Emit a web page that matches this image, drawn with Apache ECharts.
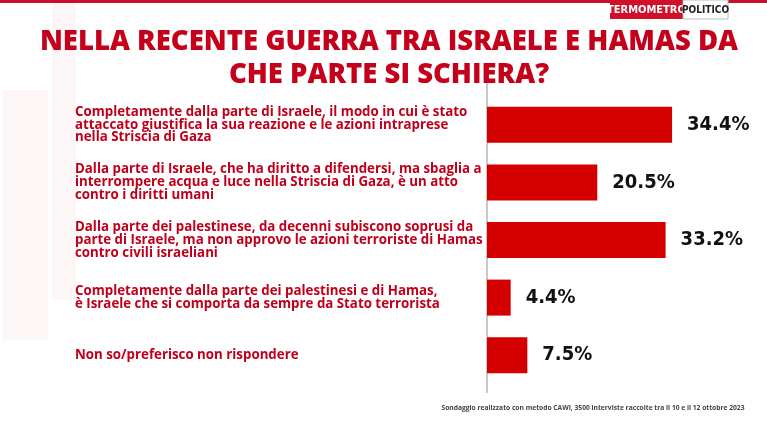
<!DOCTYPE html>
<html><head><meta charset="utf-8">
<script src="https://cdn.jsdelivr.net/npm/echarts@6/dist/echarts.min.js"></script>
<style>html,body{margin:0;padding:0;background:#fff}#c{width:767px;height:421px}</style>
</head><body><div id="c"></div>
<script>
const titleLines = ['NELLA RECENTE GUERRA TRA ISRAELE E HAMAS DA', 'CHE PARTE SI SCHIERA?'];
const categories = [
  'Completamente dalla parte di Israele, il modo in cui è stato\nattaccato giustifica la sua reazione e le azioni intraprese\nnella Striscia di Gaza',
  'Dalla parte di Israele, che ha diritto a difendersi, ma sbaglia a\ninterrompere acqua e luce nella Striscia di Gaza, è un atto\ncontro i diritti umani',
  'Dalla parte dei palestinese, da decenni subiscono soprusi da\nparte di Israele, ma non approvo le azioni terroriste di Hamas\ncontro civili israeliani',
  'Completamente dalla parte dei palestinesi e di Hamas,\nè Israele che si comporta da sempre da Stato terrorista',
  'Non so/preferisco non rispondere'
];
const values = [34.4, 20.5, 33.2, 4.4, 7.5];
const footnote = 'Sondaggio realizzato con metodo CAWI, 3500 interviste raccolte tra il 10 e il 12 ottobre 2023';

const chart = echarts.init(document.getElementById('c'));
chart.setOption({
  backgroundColor: '#fff',
  animation: false,
  title: {
    text: titleLines.join('\n'),
    left: 384, top: 21, textAlign: 'center',
    textStyle: { color: '#c4001a', fontFamily: 'Open Sans', fontWeight: 800, fontSize: 27.5, lineHeight: 33 }
  },
  grid: { left: 487, top: 96, height: 288, width: 269 },
  xAxis: { type: 'value', min: 0, max: 50, show: false },
  yAxis: {
    type: 'category', data: categories, inverse: true,
    axisLine: { show: false }, axisTick: { show: false },
    axisLabel: {
      align: 'left', margin: 412, color: '#c0001a', padding: [5, 0, 0, 0],
      fontFamily: 'Open Sans', fontWeight: 700, fontSize: 13.3, lineHeight: 12.8
    }
  },
  series: [{
    type: 'bar', data: values, barWidth: 36,
    itemStyle: { color: '#d40000' },
    label: {
      show: true, position: 'right', distance: 15,
      formatter: p => p.value.toFixed(1) + '%',
      color: '#111', fontFamily: '"DejaVu Sans Condensed", "Liberation Sans"', fontWeight: 'bold', fontSize: 20
    }
  }],
  graphic: [
    { type: 'rect', z: -1, shape: { x: 3, y: 90, width: 45, height: 250 }, style: { fill: '#fdf6f6' } },
    { type: 'rect', z: -1, shape: { x: 52, y: 0, width: 24, height: 300 }, style: { fill: '#fdf6f6' } },
    { type: 'rect', shape: { x: 0, y: 0, width: 767, height: 3 }, style: { fill: '#c8102e' } },
    { type: 'line', shape: { x1: 487, y1: 83, x2: 487, y2: 393 }, style: { stroke: '#c8c8c8', lineWidth: 2 } },
    { type: 'rect', shape: { x: 610, y: 0, width: 73, height: 19 }, style: { fill: '#d0102a' } },
    { type: 'rect', shape: { x: 683, y: 0, width: 45, height: 19 }, style: { fill: '#fff', stroke: '#bbb', lineWidth: 1 } },
    { type: 'text', style: { x: 646.5, y: 10, text: 'TERMOMETRO', align: 'center', verticalAlign: 'middle', fill: '#fff', font: 'bold 11px "DejaVu Sans Condensed"' } },
    { type: 'text', style: { x: 705.5, y: 10, text: 'POLITICO', align: 'center', verticalAlign: 'middle', fill: '#222', font: 'bold 10px "DejaVu Sans Condensed"' } },
    { type: 'text', style: { x: 593, y: 408, text: footnote, align: 'center', verticalAlign: 'middle', fill: '#444', font: 'bold 6.7px "Open Sans"' } }
  ]
});
</script></body></html>
